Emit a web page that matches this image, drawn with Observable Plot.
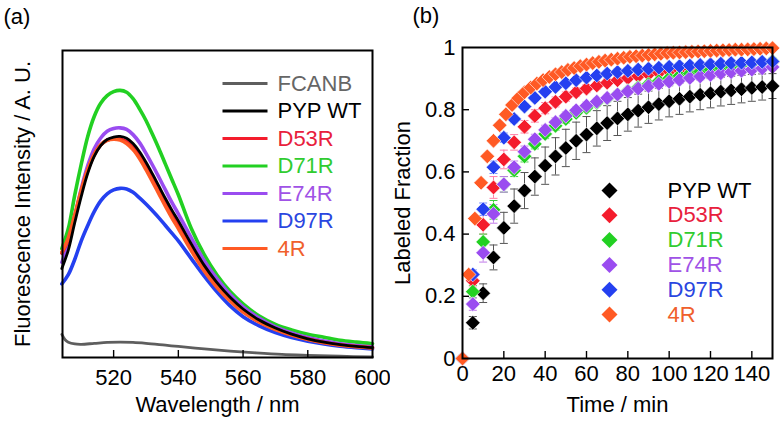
<!DOCTYPE html>
<html><head><meta charset="utf-8">
<script src="https://cdn.jsdelivr.net/npm/d3@7"></script>
<script src="https://cdn.jsdelivr.net/npm/@observablehq/plot@0.6"></script>
<style>
html,body{margin:0;padding:0;background:#fff;}
#wrap{display:flex;width:783px;height:423px;overflow:hidden;}
#wrap svg{overflow:visible;}
</style></head><body><div id="wrap"><div id="pa"></div><div id="pb"></div></div>
<script>
// ---------- Panel (a): fluorescence spectra ----------
const wavelength = [504,506,508,510,512,514,516,518,520,522,524,526,528,530,532,534,536,538,540,544,548,552,556,560,565,570,575,580,585,590,595,600];
const specD71R = [0.355,0.42,0.53,0.63,0.72,0.785,0.828,0.853,0.866,0.87,0.864,0.843,0.81,0.772,0.727,0.68,0.63,0.58,0.53,0.42,0.335,0.268,0.215,0.175,0.135,0.108,0.09,0.076,0.066,0.056,0.05,0.045];
const specE74R = [0.31,0.37,0.46,0.55,0.625,0.68,0.715,0.737,0.746,0.748,0.743,0.726,0.70,0.665,0.627,0.587,0.546,0.505,0.468,0.39,0.315,0.255,0.205,0.165,0.128,0.1,0.08,0.065,0.054,0.045,0.039,0.034];
const specPYP = [0.29,0.35,0.44,0.525,0.60,0.655,0.69,0.71,0.718,0.72,0.714,0.697,0.67,0.636,0.598,0.558,0.518,0.48,0.445,0.37,0.3,0.243,0.196,0.158,0.122,0.096,0.076,0.061,0.05,0.042,0.036,0.032];
const specD53R = [0.34,0.385,0.46,0.54,0.61,0.66,0.692,0.708,0.713,0.712,0.703,0.684,0.656,0.62,0.582,0.542,0.502,0.465,0.43,0.357,0.29,0.235,0.19,0.153,0.118,0.093,0.074,0.06,0.049,0.041,0.036,0.032];
const spec4R = [0.343,0.39,0.465,0.545,0.612,0.662,0.693,0.707,0.711,0.708,0.697,0.677,0.648,0.612,0.573,0.533,0.493,0.455,0.42,0.348,0.282,0.228,0.184,0.148,0.115,0.091,0.073,0.059,0.048,0.04,0.035,0.031];
const specD97R = [0.24,0.27,0.32,0.38,0.43,0.475,0.51,0.533,0.546,0.551,0.549,0.538,0.52,0.5,0.478,0.455,0.43,0.405,0.38,0.322,0.265,0.213,0.168,0.133,0.103,0.081,0.065,0.053,0.044,0.037,0.032,0.028];
const fcanbWavelength = [504,505,506,508,510,514,518,522,526,530,536,540,548,556,564,572,580,590,600];
const fcanbIntensity = [0.075,0.058,0.05,0.044,0.043,0.046,0.049,0.05,0.049,0.046,0.04,0.036,0.028,0.021,0.015,0.01,0.007,0.004,0.002];
const xTicksA = [520,540,560,580,600];
const legendNamesA = ["FCANB","PYP WT","D53R","D71R","E74R","D97R","4R"];

// ---------- Panel (b): labeling kinetics ----------
const time5 = [0,5,10,15,20,25,30,35,40,45,50,55,60,65,70,75,80,85,90,95,100,105,110,115,120,125,130,135,140,145,150];
const time3 = [0,3,6,9,12,15,18,21,24,27,30,33,36,39,42,45,48,51,54,57,60,63,66,69,72,75,78,81,84,87,90,93,96,99,102,105,108,111,114,117,120,123,126,129,132,135,138,141,144,147,150];
const fracPYP  = [0,0.115,0.21,0.325,0.42,0.49,0.54,0.585,0.62,0.65,0.677,0.70,0.72,0.74,0.757,0.772,0.785,0.797,0.808,0.818,0.827,0.835,0.842,0.848,0.853,0.858,0.862,0.866,0.87,0.873,0.876];
const fracD53R = [0,0.25,0.43,0.55,0.64,0.695,0.745,0.78,0.805,0.825,0.842,0.856,0.868,0.878,0.887,0.895,0.902,0.908,0.914,0.919,0.924,0.928,0.932,0.936,0.939,0.942,0.945,0.947,0.949,0.951,0.953];
const fracD71R = [0,0.215,0.375,0.478,0.56,0.605,0.65,0.69,0.722,0.748,0.77,0.79,0.806,0.822,0.836,0.849,0.861,0.872,0.882,0.892,0.901,0.909,0.916,0.923,0.929,0.934,0.939,0.944,0.948,0.952,0.956];
const fracE74R = [0,0.175,0.34,0.465,0.56,0.615,0.665,0.705,0.735,0.76,0.78,0.798,0.813,0.826,0.838,0.849,0.859,0.868,0.876,0.883,0.89,0.896,0.902,0.907,0.912,0.917,0.921,0.925,0.929,0.933,0.937];
const fracD97R = [0,0.27,0.48,0.615,0.71,0.77,0.81,0.838,0.858,0.873,0.885,0.895,0.903,0.91,0.916,0.921,0.925,0.929,0.932,0.935,0.938,0.94,0.942,0.944,0.946,0.948,0.95,0.951,0.952,0.954,0.955];
const frac4R   = [0,0.27,0.45,0.565,0.65,0.70,0.75,0.785,0.815,0.837,0.856,0.871,0.884,0.895,0.905,0.914,0.921,0.928,0.934,0.94,0.945,0.95,0.954,0.958,0.961,0.964,0.967,0.97,0.972,0.974,0.976,0.978,0.98,0.982,0.983,0.984,0.985,0.986,0.987,0.988,0.989,0.99,0.991,0.992,0.993,0.993,0.994,0.995,0.996,0.997,0.998];
const errPYP  = [0,0.02,0.03,0.04,0.05,0.055,0.058,0.06,0.06,0.06,0.06,0.06,0.058,0.057,0.056,0.055,0.054,0.053,0.052,0.051,0.05,0.05,0.049,0.048,0.047,0.046,0.045,0.044,0.043,0.042,0.04];
const errD53R = [0,0.02,0.03,0.035,0.03,0.025,0.02,0.02,0.018,0.016,0.015,0.014,0.013,0.012,0.012,0.011,0.011,0.01,0.01,0.01,0.01,0.01,0.01,0.01,0.01,0.01,0.01,0.01,0.01,0.01,0.01];
const errD71R = [0,0.02,0.025,0.03,0.025,0.02,0.018,0.016,0.015,0.014,0.013,0.012,0.012,0.011,0.011,0.01,0.01,0.01,0.01,0.01,0.01,0.01,0.01,0.01,0.01,0.01,0.01,0.01,0.01,0.01,0.01];
const errE74R = [0,0.02,0.03,0.03,0.025,0.02,0.018,0.016,0.015,0.014,0.013,0.012,0.012,0.011,0.011,0.01,0.01,0.01,0.01,0.01,0.01,0.01,0.01,0.01,0.01,0.01,0.01,0.01,0.01,0.01,0.01];
const errD97R = [0,0.015,0.02,0.02,0.015,0.012,0.01,0.01,0.01,0.01,0.01,0.01,0.01,0.01,0.01,0.01,0.01,0.01,0.01,0.01,0.01,0.01,0.01,0.01,0.01,0.01,0.01,0.01,0.01,0.01,0.01];
const xTicksB = [0,20,40,60,80,100,120,140];
const yTicksB = [0,0.2,0.4,0.6,0.8,1];
const legendNamesB = ["PYP WT","D53R","D71R","E74R","D97R","4R"];

// ---------- styling ----------
const FONT = "'Liberation Sans', Arial, Helvetica, sans-serif";
const col = {
  FCANB: "#5e5e5e", PYP: "#000000", D53R: "#f41c2c", D71R: "#22d022",
  E74R: "#9a4cf0", D97R: "#2440f0", R4: "#ff5a24"
};
const textCol = {
  FCANB: "#666666", PYP: "#000000", D53R: "#e8203c", D71R: "#30cc30",
  E74R: "#a052e6", D97R: "#2a46e0", R4: "#f0602c"
};
const lineSym = len => ({draw(ctx){ ctx.moveTo(-len/2, 0); ctx.lineTo(len/2, 0); }});
const capSym = lineSym(8);
const T = {fontSize: 22, lineAnchor: "middle"};

// ---------- Panel (a) ----------
{
  const W = 390, H = 423, mL = 62, mR = 18, mT = 50, mB = 66;
  const fh = H - mT - mB;
  const rec = (arr) => wavelength.map((w, i) => ({w, v: arr[i]}));
  const series = [
    {key:"D71R", v: specD71R, sw: 3.6},
    {key:"D97R", v: specD97R, sw: 3.6},
    {key:"E74R", v: specE74R, sw: 3.6},
    {key:"D53R", v: specD53R, sw: 3.6},
    {key:"R4",   v: spec4R,   sw: 3.6},
    {key:"PYP",  v: specPYP,  sw: 2.8}
  ];
  const legendKeys = ["FCANB","PYP","D53R","D71R","E74R","D97R","R4"];
  const marks = [
    Plot.line(fcanbWavelength.map((w, i) => ({w, v: fcanbIntensity[i]})), {x:"w", y:"v", stroke: col.FCANB, strokeWidth: 2.8, curve:"catmull-rom"}),
    ...series.map(s => Plot.line(rec(s.v), {x:"w", y:"v", stroke: col[s.key], strokeWidth: s.sw, curve:"catmull-rom"})),
    Plot.ruleX(xTicksA.slice(0, -1), {stroke:"black", strokeWidth: 1.4, insetTop: fh - 7}),
    Plot.frame({stroke:"black", strokeWidth: 2}),
    Plot.axisX(xTicksA, {tickSize: 0, tickPadding: 12, label: null, fontSize: 22}),
    Plot.text(["Wavelength / nm"], {...T, text: d => d, frameAnchor:"bottom", dy: 47, textAnchor: "middle"}),
    Plot.text(["Fluorescence Intensity / A. U."], {...T, text: d => d, frameAnchor:"left", dx: -40, rotate: -90, textAnchor: "middle"}),
    Plot.text(["(a)"], {...T, text: d => d, frameAnchor:"top-left", dx: -59, dy: -34, textAnchor:"start"}),
    ...legendNamesA.map((name, i) => Plot.dot([name], {frameAnchor:"top-left", dx: 182.5, dy: 33 + 27.5 * i, symbol: lineSym(45), r: 5, fill: "none", stroke: col[legendKeys[i]], strokeWidth: 3.2})),
    ...legendNamesA.map((name, i) => Plot.text([name], {...T, text: d => d, frameAnchor:"top-left", dx: 215, dy: 33 + 27.5 * i, textAnchor:"start", fill: textCol[legendKeys[i]]}))
  ];
  const chart = Plot.plot({
    width: W, height: H, marginLeft: mL, marginRight: mR, marginTop: mT, marginBottom: mB,
    style: {fontFamily: FONT, fontSize: "22px", color: "black", background: "white"},
    x: {domain: [504.2, 600]},
    y: {domain: [0, 1], axis: null},
    marks
  });
  document.getElementById("pa").appendChild(chart);
}

// ---------- Panel (b) ----------
{
  const W = 393, H = 423, mL = 72, mR = 11, mT = 47, mB = 65;
  const fw = W - mL - mR, fh = H - mT - mB;
  const series = [
    {key:"PYP",  t: time5, v: fracPYP,  e: errPYP,  ec: "#555555"},
    {key:"D53R", t: time5, v: fracD53R, e: errD53R, ec: "#ff7fa8"},
    {key:"D71R", t: time5, v: fracD71R, e: errD71R, ec: "#40d040"},
    {key:"E74R", t: time5, v: fracE74R, e: errE74R, ec: "#c07ae8"},
    {key:"D97R", t: time5, v: fracD97R, e: errD97R, ec: "#7088ff"},
    {key:"R4",   t: time3, v: frac4R,   e: null,    ec: null}
  ];
  const recs = s => s.t.map((t, i) => ({t, v: s.v[i], e: s.e ? s.e[i] : 0}));
  const errMarks = [];
  for (const s of series) {
    if (!s.e) continue;
    const d = recs(s).filter(r => r.e > 0);
    errMarks.push(Plot.ruleX(d, {x:"t", y1: r => r.v - r.e, y2: r => r.v + r.e, stroke: s.ec, strokeWidth: 1}));
    errMarks.push(Plot.dot(d, {x:"t", y: r => r.v - r.e, symbol: capSym, r: 3, fill:"none", stroke: s.ec, strokeWidth: 1}));
    errMarks.push(Plot.dot(d, {x:"t", y: r => r.v + r.e, symbol: capSym, r: 3, fill:"none", stroke: s.ec, strokeWidth: 1}));
  }
  const dotMarks = series.map(s => Plot.dot(recs(s), {x:"t", y:"v", symbol:"diamond2", r: 6.6, fill: col[s.key], stroke:"white", strokeWidth: 0.6}));
  const legendKeys = ["PYP","D53R","D71R","E74R","D97R","R4"];
  const marks = [
    ...errMarks,
    ...dotMarks,
    Plot.ruleX(xTicksB.slice(1), {stroke:"black", strokeWidth: 1.4, insetTop: fh - 7}),
    Plot.ruleY(yTicksB.slice(1, -1), {stroke:"black", strokeWidth: 1.4, insetRight: fw - 7}),
    Plot.frame({stroke:"black", strokeWidth: 2}),
    Plot.axisX(xTicksB, {tickSize: 0, tickPadding: 7, label: null, fontSize: 22}),
    Plot.axisY(yTicksB, {tickSize: 0, tickPadding: 7, label: null, tickFormat: d3.format("~g"), fontSize: 22}),
    Plot.text(["Time / min"], {...T, text: d => d, frameAnchor:"bottom", dy: 46, textAnchor: "middle"}),
    Plot.text(["Labeled Fraction"], {...T, text: d => d, frameAnchor:"left", dx: -60, rotate: -90, textAnchor: "middle"}),
    Plot.text(["(b)"], {...T, text: d => d, frameAnchor:"top-left", dx: -50, dy: -32, textAnchor:"start"}),
    ...legendNamesB.map((name, i) => Plot.dot([name], {frameAnchor:"top-left", dx: 147, dy: 143 + 24.8 * i, symbol:"diamond2", r: 7.2, fill: col[legendKeys[i]]})),
    ...legendNamesB.map((name, i) => Plot.text([name], {...T, text: d => d, frameAnchor:"top-left", dx: 205, dy: 143 + 24.8 * i, textAnchor:"start", fill: textCol[legendKeys[i]]}))
  ];
  const chart = Plot.plot({
    width: W, height: H, marginLeft: mL, marginRight: mR, marginTop: mT, marginBottom: mB,
    style: {fontFamily: FONT, fontSize: "22px", color: "black", background: "white"},
    x: {domain: [0, 150]},
    y: {domain: [0, 1]},
    marks
  });
  document.getElementById("pb").appendChild(chart);
}
</script></body></html>
